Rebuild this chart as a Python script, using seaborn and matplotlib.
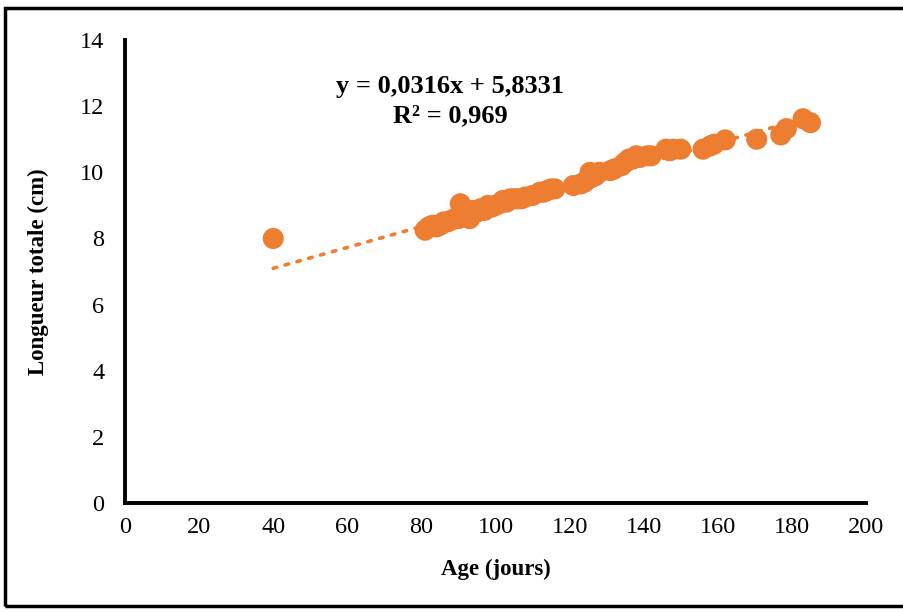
import numpy as np
import pandas as pd
import matplotlib
matplotlib.use("Agg")
import matplotlib.pyplot as plt
import seaborn as sns
from matplotlib.patches import Rectangle

age = [40, 81, 82, 83, 84, 85, 86, 87, 88, 89, 90, 90.5, 91, 92, 93, 94, 95, 96, 97, 98,
       99, 100, 101, 102, 103, 104, 105, 106, 107, 108, 110, 112, 113, 114, 115, 116,
       121, 123, 124, 125, 125.5, 126, 127, 128, 131, 132, 134, 135, 136, 137, 138, 139,
       141, 142, 146, 147, 148, 150, 156, 158, 159, 162, 170.5, 177, 178.5, 183, 185]
longueur = [8.0, 8.25, 8.35, 8.4, 8.35, 8.4, 8.5, 8.5, 8.55, 8.6, 8.6, 9.05, 8.7, 8.8, 8.6,
            8.85, 8.8, 8.9, 8.85, 9.0, 8.95, 9.0, 9.05, 9.15, 9.1, 9.2, 9.2, 9.2, 9.2, 9.25,
            9.3, 9.4, 9.4, 9.45, 9.5, 9.5, 9.6, 9.65, 9.7, 9.8, 10.0, 9.85, 9.9, 10.0,
            10.05, 10.1, 10.2, 10.3, 10.4, 10.4, 10.5, 10.45, 10.5, 10.5, 10.7, 10.65,
            10.7, 10.7, 10.7, 10.8, 10.85, 10.98, 11.0, 11.13, 11.32, 11.62, 11.5]
slope, intercept = 0.0316, 5.8331
eq_text = "y = 0,0316x + 5,8331"
r2_text = "R² = 0,969"
xticks = [0, 20, 40, 60, 80, 100, 120, 140, 160, 180, 200]
yticks = [0, 2, 4, 6, 8, 10, 12, 14]

df = pd.DataFrame({"Age": age, "Longueur": longueur})

sns.set_theme(style="white")
plt.rcParams["font.family"] = ["Liberation Serif", "DejaVu Serif"]

fig = plt.figure(figsize=(9.04, 6.12), dpi=100)
ax = fig.add_axes([0.1383, 0.178, 0.8197, 0.7566])

orange = "#ED7D31"
sns.scatterplot(data=df, x="Age", y="Longueur", ax=ax, color=orange, s=230,
                edgecolor="none", linewidth=0, zorder=3)

xl = np.array([min(age), max(age)])
ax.plot(xl, slope * xl + intercept, linestyle=(0, (1, 2.4)), color=orange,
        linewidth=2.6, zorder=2, dash_capstyle="round")

ax.set_xlim(0, 200)
ax.set_ylim(0, 14)
ax.set_xticks(xticks)
ax.set_yticks(yticks)
ax.tick_params(axis="both", length=0, labelsize=17.5, colors="black")
ax.tick_params(axis="x", pad=10)
ax.tick_params(axis="y", pad=15)
for s in ["top", "right"]:
    ax.spines[s].set_visible(False)
for s in ["left", "bottom"]:
    ax.spines[s].set_color("black")
    ax.spines[s].set_linewidth(2.8)

ax.set_xlabel("Age (jours)", fontsize=16.5, fontweight="bold", color="black", labelpad=15)
ax.set_ylabel("Longueur totale (cm)", fontsize=16.5, fontweight="bold", color="black", labelpad=22)

fig.text(450 / 904, 1 - 86 / 612, eq_text, ha="center", va="center",
         fontsize=19, fontweight="bold", color="black")
fig.text(450 / 904, 1 - 116 / 612, r2_text, ha="center", va="center",
         fontsize=19, fontweight="bold", color="black")

fig.patches.append(Rectangle((5 / 904, 6 / 612), 1.2, 1 - 14 / 612,
                             transform=fig.transFigure, fill=False,
                             edgecolor="black", linewidth=2.5))

fig.savefig("out.png", dpi=100)
